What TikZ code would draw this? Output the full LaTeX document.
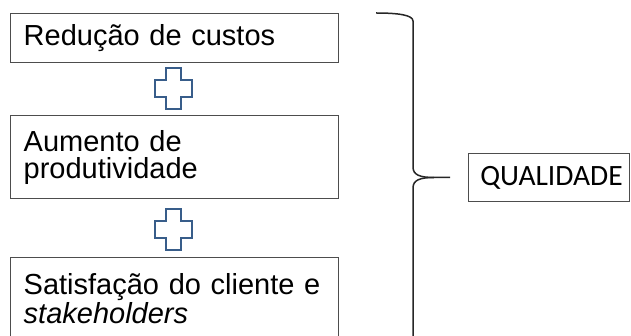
\documentclass[tikz,border=0pt]{standalone}
\usepackage{fontspec}
\setmainfont{Liberation Sans}
\newfontfamily\carlito{Carlito}
\usetikzlibrary{positioning}
\definecolor{boxgray}{HTML}{4D4D4D}
\definecolor{plusblue}{HTML}{385D8A}

\begin{document}
\begin{tikzpicture}[
    x=1pt, y=-1pt,
    itembox/.style={draw=boxgray, line width=1.4pt, anchor=north west, text width=302pt,
      inner xsep=13pt, inner ysep=0pt, align=left, font=\fontsize{29}{27}\selectfont},
    resbox/.style={draw=boxgray, line width=1.4pt, anchor=north west, text width=147pt,
      inner xsep=7pt, inner ysep=0pt, minimum height=48pt, align=right,
      font=\carlito\fontsize{29.5}{32}\selectfont},
    plusline/.style={draw=plusblue, line width=2.2pt, line join=miter},
    brace/.style={draw=black!85, line width=1.5pt},
  ]
  \useasboundingbox (0,0) rectangle (631,336);
  \clip (0,0) rectangle (631,336);

  % ===== ITEMS: three boxes on the left =====
  \node[itembox, minimum height=49pt] (custos) at (10,13) {Redução de custos};
  \node[itembox, minimum height=83pt] (produt) at (10,115) {Aumento de\\produtividade};
  \node[itembox, minimum height=82pt] (satisf) at (10,257)
    {Satisfação do cliente e\\\textit{stakeholders}};

  % ===== PLUS signs between the boxes =====
  \foreach \cy in {88.5, 229.5}{
    \draw[plusline] (173.5,\cy) ++(-7.5,-20.5) -- ++(15,0) -- ++(0,12) -- ++(11,0)
      -- ++(0,17) -- ++(-11,0) -- ++(0,12) -- ++(-15,0) -- ++(0,-12) -- ++(-11,0)
      -- ++(0,-17) -- ++(11,0) -- cycle;
  }

  % ===== BRACE =====
  \coordinate (tip) at (450,177.5);
  \draw[brace] (376,13) .. controls (398,13) and (413,15) .. (413,21) -- (413,167)
    .. controls (413,175) and (420,177.5) .. (434,177.5) -- (tip);
  \draw[brace] (434,177.5) .. controls (420,177.5) and (413,180) .. (413,188) -- (413,345);

  % ===== RESULT =====
  \node[resbox] (qualidade) at (468,153) {QUALIDADE};

\end{tikzpicture}
\end{document}
